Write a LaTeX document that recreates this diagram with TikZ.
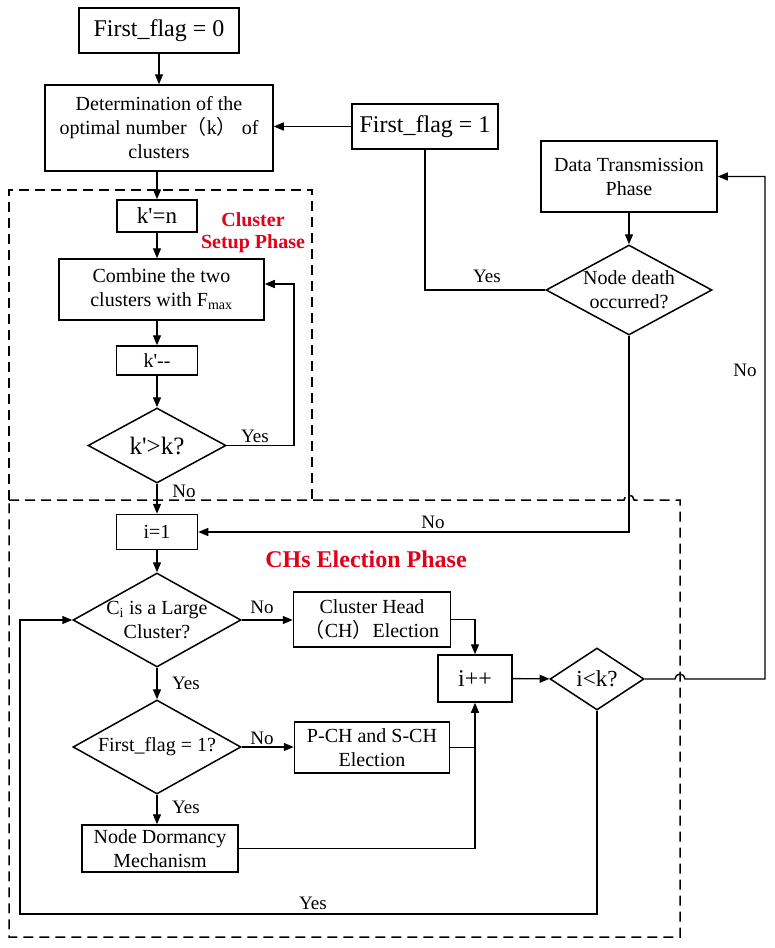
\documentclass[tikz,border=0pt]{standalone}
\usepackage{fontspec}
\setmainfont{Liberation Serif}
\newfontfamily\cjk{Noto Sans CJK SC}
\usepackage{xcolor}
\definecolor{cMain}{HTML}{000000}
\definecolor{cPhase}{HTML}{E2001A}
\usepackage{tikz}
\usetikzlibrary{positioning,arrows.meta,shapes.geometric,calc}
\tikzset{
  node-box/.style={draw=cMain,line width=1.5pt,inner sep=0pt,align=center,
    font=\fontsize{20}{24}\selectfont},
  node-dec/.style={draw=cMain,line width=1.5pt,diamond,inner sep=0pt},
  dec-text/.style={align=center,inner sep=0pt,font=\fontsize{20}{24}\selectfont},
  arrow/.style={-{Triangle[length=10pt,width=8pt]},line width=1.4pt,draw=cMain},
  plain-line/.style={line width=1.4pt,draw=cMain},
  phase-box/.style={dash pattern=on 10pt off 6pt,line width=1.5pt,draw=cMain},
  phase-title/.style={text=cPhase,align=center,
    font=\bfseries\fontsize{20}{22}\selectfont},
  edge-label/.style={inner sep=0pt,font=\fontsize{19}{22}\selectfont},
}

\begin{document}
\begin{tikzpicture}[x=1pt,y=-1pt]
  \useasboundingbox (0,0) rectangle (775,948);
  % phases
  \draw[phase-box] (9,500) -- (9,190) -- (312,190) -- (312,500);
  \draw[phase-box] (9,500) -- (624,500) arc[start angle=180,end angle=0,radius=5pt]
    -- (680,500) -- (680,937) -- (9,937) -- cycle;
  \node[phase-title] (setup) at (253,233) {Cluster\\Setup Phase};
  \node[phase-title,font=\bfseries\fontsize{24}{26}\selectfont] (chs) at (366,559) {CHs Election Phase};

  % boxes
  \node[node-box,minimum width=160pt,minimum height=45pt,font=\fontsize{24}{26}\selectfont]
    (flag0) at (159,30.5) {First\_flag = 0};
  \node[node-box,minimum width=228pt,minimum height=86pt] (optk) at (159,128)
    {Determination of the\\optimal number{\cjk （}k{\cjk ）} of\\clusters};
  \node[node-box,minimum width=146pt,minimum height=45pt,font=\fontsize{24}{26}\selectfont]
    (flag1) at (425,126.5) {First\_flag = 1};
  \node[node-box,minimum width=176pt,minimum height=71pt] (dtp) at (629,176.5)
    {Data Transmission\\Phase};
  \node[node-dec,minimum width=166pt,minimum height=90pt,
    label={[dec-text]center:{Node death\\occurred?}}] (death) at (629,290) {};
  \node[node-box,minimum width=80pt,minimum height=32pt,font=\fontsize{23}{26}\selectfont]
    (kn) at (157,216) {k\textquotesingle=n};
  \node[node-box,minimum width=205pt,minimum height=61pt] (comb) at (161.5,289.5)
    {Combine the two\\clusters with F\textsubscript{max}};
  \node[node-box,minimum width=81pt,minimum height=29pt] (kdec) at (157,360.5)
    {k\textquotesingle-{}-};
  \node[node-dec,minimum width=138pt,minimum height=75pt,
    label={[dec-text,font=\fontsize{25}{28}\selectfont]center:{k\textquotesingle>k?}}]
    (kcmp) at (157,445.5) {};
  \node[node-box,minimum width=81pt,minimum height=35pt] (i1) at (157,532) {i=1};
  \node[node-dec,minimum width=168pt,minimum height=94pt,
    label={[dec-text]center:{C\textsubscript{i} is a Large\\Cluster?}}] (large) at (157,620) {};
  \node[node-box,minimum width=157pt,minimum height=55pt] (chel) at (372,619.5)
    {Cluster Head\\{\cjk （}CH{\cjk ）}Election};
  \node[node-box,minimum width=74pt,minimum height=47pt,font=\fontsize{24}{26}\selectfont]
    (iinc) at (475,678.5) {i++};
  \node[node-dec,minimum width=94pt,minimum height=62pt,
    label={[dec-text,font=\fontsize{23}{26}\selectfont]center:{i<k?}}] (ilk) at (597,679) {};
  \node[node-dec,minimum width=168pt,minimum height=94pt,
    label={[dec-text]center:{First\_flag = 1?}}] (flag1q) at (157,747) {};
  \node[node-box,minimum width=155pt,minimum height=51pt] (pch) at (372,747.5)
    {P-CH and S-CH\\Election};
  \node[node-box,minimum width=156pt,minimum height=47pt] (dorm) at (160,848.5)
    {Node Dormancy\\Mechanism};

  % helper points
  \coordinate (kloop) at (294,284);
  \coordinate (hop) at (680,679);
  \coordinate (rbus) at (765,679);
  \coordinate (ybot) at (20,914);

  % connectors
  \draw[arrow] (flag0) -- (optk);
  \draw[arrow] (flag1.west) -- (flag1.west -| optk.east);
  \draw[arrow] (optk.south -| kn) -- (kn);
  \draw[arrow] (kn) -- (kn |- comb.north);
  \draw[arrow] (kdec |- comb.south) -- (kdec);
  \draw[arrow] (kdec) -- (kcmp);
  \draw[arrow] (kcmp.east) -| (kloop) -- (kloop -| comb.east);
  \draw[arrow] (kcmp) -- (i1);
  \draw[plain-line] (death.west) -| (flag1.south);
  \draw[arrow] (dtp) -- (death);
  \draw[arrow] (death.south) |- (i1.east);
  \draw[arrow] (i1) -- (large);
  \draw[arrow] (large.east) -- (chel.west |- large.east);
  \draw[arrow] (large) -- (flag1q);
  \draw[arrow] (chel.east) -| (iinc.north);
  \draw[arrow] (iinc) -- (ilk);
  \draw[arrow] (flag1q.east) -- (pch.west |- flag1q.east);
  \draw[arrow] (flag1q) -- (dorm.north -| flag1q);
  \draw[plain-line] (pch.east) -- (pch.east -| iinc);
  \draw[arrow] (dorm.east) -| (iinc.south);
  \draw[arrow] (ilk.south) |- (ybot) |- (large.west);
  \draw[arrow] (ilk.east) -- ([xshift=-5pt]hop) arc[start angle=180,end angle=0,radius=5pt]
    -- (rbus) |- (dtp.east);

  % labels
  \node[edge-label] (yes1) at (255,436) {Yes};
  \node[edge-label] (no1) at (184,491) {No};
  \node[edge-label] (yes2) at (487,276) {Yes};
  \node[edge-label] (no2) at (433,522) {No};
  \node[edge-label] (no3) at (262,607) {No};
  \node[edge-label] (yes3) at (186,683) {Yes};
  \node[edge-label] (no4) at (262,738) {No};
  \node[edge-label] (yes4) at (186,807) {Yes};
  \node[edge-label] (yes5) at (313,903) {Yes};
  \node[edge-label] (no5) at (745,370) {No};
\end{tikzpicture}
\end{document}
